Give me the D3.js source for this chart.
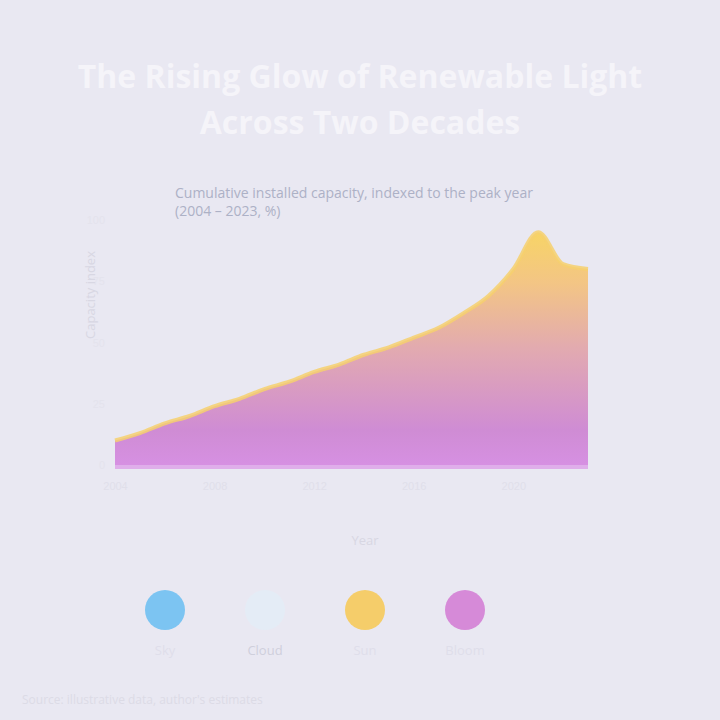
<!DOCTYPE html>
<html><head><meta charset="utf-8">
<script src="https://cdn.jsdelivr.net/npm/d3@7"></script>
<style>html,body{margin:0;padding:0;background:#e9e8f2;}svg{display:block;font-family:"Open Sans",sans-serif;}</style>
</head><body>
<script>
const years = [2004,2005,2006,2007,2008,2009,2010,2011,2012,2013,2014,2015,2016,2017,2018,2019,2020,2021,2022,2023];
const values = [10,13,17,20,24,27,31,34,38,41,45,48,52,56,62,69,80,95,82,80];
const legendLabels = ["Sky","Cloud","Sun","Bloom"];
const legendColors = ["#7cc4f2","#e4ecf6","#f5cd6a","#d68ad8"];
const yTicks = [0,25,50,75,100];

const W=720,H=720;
const svg=d3.select("body").append("svg").attr("width",W).attr("height",H);
svg.append("rect").attr("width",W).attr("height",H).attr("fill","#e9e8f2");

const defs=svg.append("defs");
const g=defs.append("linearGradient").attr("id","ag").attr("x1",0).attr("y1",1).attr("x2",0).attr("y2",0);
g.append("stop").attr("offset","0%").attr("stop-color","#d690e2");
g.append("stop").attr("offset","15%").attr("stop-color","#cf8cd4");
g.append("stop").attr("offset","50%").attr("stop-color","#e2aab0");
g.append("stop").attr("offset","78%").attr("stop-color","#f3c585");
g.append("stop").attr("offset","100%").attr("stop-color","#f7d466");

// title
svg.append("text").attr("x",360).attr("y",88).attr("text-anchor","middle")
  .attr("font-size",32).attr("font-weight",700).attr("fill","#f5f4f9").text("The Rising Glow of Renewable Light");
svg.append("text").attr("x",360).attr("y",134).attr("text-anchor","middle")
  .attr("font-size",32).attr("font-weight",700).attr("fill","#f5f4f9").text("Across Two Decades");
svg.append("text").attr("x",175).attr("y",198).attr("font-size",14).attr("fill","#adb1c6").text("Cumulative installed capacity, indexed to the peak year");
svg.append("text").attr("x",175).attr("y",216).attr("font-size",14).attr("fill","#adb1c6").text("(2004 – 2023, %)");

const x=d3.scalePoint().domain(years).range([115,588]);
const y=d3.scaleLinear().domain([0,100]).range([465,220]);

const data=years.map((yr,i)=>({year:yr,v:values[i]}));
const area=d3.area().x(d=>x(d.year)).y0(y(0)).y1(d=>y(d.v)).curve(d3.curveMonotoneX);
const line=d3.line().x(d=>x(d.year)).y(d=>y(d.v)).curve(d3.curveMonotoneX);
svg.append("path").datum(data).attr("d",area).attr("fill","url(#ag)");
svg.append("path").datum(data).attr("d",line).attr("fill","none").attr("stroke","#f6d06e").attr("stroke-width",4).attr("stroke-opacity",0.85);
svg.append("line").attr("x1",x(years[0])).attr("x2",x(years[years.length-1])).attr("y1",y(0)+2).attr("y2",y(0)+2)
  .attr("stroke","#dfaeea").attr("stroke-width",4);

// axes (faint)
const xa=svg.append("g").attr("transform","translate(0,476)")
  .call(d3.axisBottom(x).tickValues(years.filter((d,i)=>i%4===0)).tickSize(0));
xa.select(".domain").remove();
xa.selectAll("text").attr("fill","#e0dfea").attr("font-size",11).attr("dy","1em");
const ya=svg.append("g").attr("transform","translate(108,0)")
  .call(d3.axisLeft(y).tickValues(yTicks).tickSize(0));
ya.select(".domain").remove();
ya.selectAll("text").attr("fill","#e4e3ed").attr("font-size",11);

svg.append("text").attr("transform","translate(95,295) rotate(-90)").attr("text-anchor","middle")
  .attr("font-size",13).attr("fill","#d8d7e3").text("Capacity index");
svg.append("text").attr("x",365).attr("y",545).attr("text-anchor","middle")
  .attr("font-size",13).attr("fill","#d8d7e3").text("Year");

// legend
const lx=d3.scalePoint().domain(legendLabels).range([165,465]);
const lg=svg.selectAll(".lg").data(legendLabels).enter().append("g").attr("transform",d=>`translate(${lx(d)},610)`);
lg.append("circle").attr("r",20).attr("fill",(d,i)=>legendColors[i]);
lg.append("text").attr("y",45).attr("text-anchor","middle").attr("font-size",13)
  .attr("fill",(d,i)=>i===1?"#cfcfdc":"#dfdeea").text(d=>d);

svg.append("text").attr("x",22).attr("y",704).attr("font-size",12).attr("fill","#dcdbe6")
  .text("Source: illustrative data, author's estimates");
</script>
</body></html>
